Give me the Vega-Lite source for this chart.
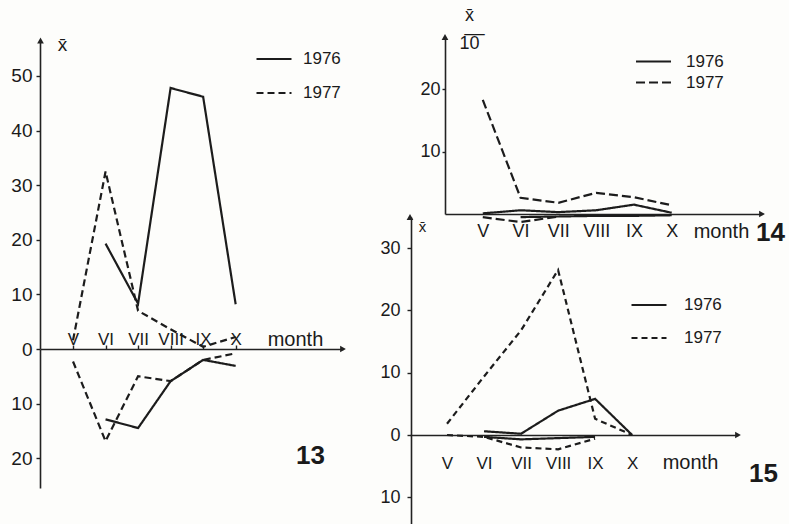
{
  "$schema": "https://vega.github.io/schema/vega-lite/v6.json",
  "width": 789,
  "height": 524,
  "autosize": {"type": "none"},
  "padding": 0,
  "background": "#fdfdfb",
  "datasets": {
    "lines": [
      {"panel": "13", "part": "upper", "year": "1976", "month": "VI", "m": 6, "v": 19.3},
      {"panel": "13", "part": "upper", "year": "1976", "month": "VII", "m": 7, "v": 8.3},
      {"panel": "13", "part": "upper", "year": "1976", "month": "VIII", "m": 8, "v": 47.8},
      {"panel": "13", "part": "upper", "year": "1976", "month": "IX", "m": 9, "v": 46.2},
      {"panel": "13", "part": "upper", "year": "1976", "month": "X", "m": 10, "v": 8.2},
      {"panel": "13", "part": "upper", "year": "1977", "month": "V", "m": 5, "v": 1.6},
      {"panel": "13", "part": "upper", "year": "1977", "month": "VI", "m": 6, "v": 32.5},
      {"panel": "13", "part": "upper", "year": "1977", "month": "VII", "m": 7, "v": 7.0},
      {"panel": "13", "part": "upper", "year": "1977", "month": "VIII", "m": 8, "v": 3.6},
      {"panel": "13", "part": "upper", "year": "1977", "month": "IX", "m": 9, "v": 0.4},
      {"panel": "13", "part": "upper", "year": "1977", "month": "X", "m": 10, "v": 2.2},
      {"panel": "13", "part": "lower", "year": "1976", "month": "VI", "m": 6, "v": 12.9},
      {"panel": "13", "part": "lower", "year": "1976", "month": "VII", "m": 7, "v": 14.5},
      {"panel": "13", "part": "lower", "year": "1976", "month": "VIII", "m": 8, "v": 5.9},
      {"panel": "13", "part": "lower", "year": "1976", "month": "IX", "m": 9, "v": 2.0},
      {"panel": "13", "part": "lower", "year": "1976", "month": "X", "m": 10, "v": 3.1},
      {"panel": "13", "part": "lower", "year": "1977", "month": "V", "m": 5, "v": 2.3},
      {"panel": "13", "part": "lower", "year": "1977", "month": "VI", "m": 6, "v": 16.9},
      {"panel": "13", "part": "lower", "year": "1977", "month": "VII", "m": 7, "v": 5.0},
      {"panel": "13", "part": "lower", "year": "1977", "month": "VIII", "m": 8, "v": 5.9},
      {"panel": "13", "part": "lower", "year": "1977", "month": "IX", "m": 9, "v": 2.0},
      {"panel": "13", "part": "lower", "year": "1977", "month": "X", "m": 10, "v": 0.8},
      {"panel": "14", "part": "upper", "year": "1976", "month": "V", "m": 5, "v": 0.1},
      {"panel": "14", "part": "upper", "year": "1976", "month": "VI", "m": 6, "v": 0.6},
      {"panel": "14", "part": "upper", "year": "1976", "month": "VII", "m": 7, "v": 0.3},
      {"panel": "14", "part": "upper", "year": "1976", "month": "VIII", "m": 8, "v": 0.6},
      {"panel": "14", "part": "upper", "year": "1976", "month": "IX", "m": 9, "v": 1.5},
      {"panel": "14", "part": "upper", "year": "1976", "month": "X", "m": 10, "v": 0.2},
      {"panel": "14", "part": "upper", "year": "1977", "month": "V", "m": 5, "v": 18.3},
      {"panel": "14", "part": "upper", "year": "1977", "month": "VI", "m": 6, "v": 2.6},
      {"panel": "14", "part": "upper", "year": "1977", "month": "VII", "m": 7, "v": 1.8},
      {"panel": "14", "part": "upper", "year": "1977", "month": "VIII", "m": 8, "v": 3.4},
      {"panel": "14", "part": "upper", "year": "1977", "month": "IX", "m": 9, "v": 2.7},
      {"panel": "14", "part": "upper", "year": "1977", "month": "X", "m": 10, "v": 1.4},
      {"panel": "14", "part": "lower", "year": "1976", "month": "VI", "m": 6, "v": 0.5},
      {"panel": "14", "part": "lower", "year": "1976", "month": "VII", "m": 7, "v": 0.4},
      {"panel": "14", "part": "lower", "year": "1976", "month": "VIII", "m": 8, "v": 0.3},
      {"panel": "14", "part": "lower", "year": "1976", "month": "IX", "m": 9, "v": 0.3},
      {"panel": "14", "part": "lower", "year": "1976", "month": "X", "m": 10, "v": 0.2},
      {"panel": "14", "part": "lower", "year": "1977", "month": "V", "m": 5, "v": 0.5},
      {"panel": "14", "part": "lower", "year": "1977", "month": "VI", "m": 6, "v": 1.3},
      {"panel": "14", "part": "lower", "year": "1977", "month": "VII", "m": 7, "v": 0.4},
      {"panel": "15", "part": "upper", "year": "1976", "month": "VI", "m": 6, "v": 0.6},
      {"panel": "15", "part": "upper", "year": "1976", "month": "VII", "m": 7, "v": 0.2},
      {"panel": "15", "part": "upper", "year": "1976", "month": "VIII", "m": 8, "v": 3.9},
      {"panel": "15", "part": "upper", "year": "1976", "month": "IX", "m": 9, "v": 5.8},
      {"panel": "15", "part": "upper", "year": "1976", "month": "X", "m": 10, "v": 0},
      {"panel": "15", "part": "upper", "year": "1977", "month": "V", "m": 5, "v": 1.8},
      {"panel": "15", "part": "upper", "year": "1977", "month": "VI", "m": 6, "v": 9.4},
      {"panel": "15", "part": "upper", "year": "1977", "month": "VII", "m": 7, "v": 16.8},
      {"panel": "15", "part": "upper", "year": "1977", "month": "VIII", "m": 8, "v": 26.5},
      {"panel": "15", "part": "upper", "year": "1977", "month": "IX", "m": 9, "v": 2.6},
      {"panel": "15", "part": "upper", "year": "1977", "month": "X", "m": 10, "v": 0},
      {"panel": "15", "part": "lower", "year": "1976", "month": "VI", "m": 6, "v": 0.3},
      {"panel": "15", "part": "lower", "year": "1976", "month": "VII", "m": 7, "v": 0.7},
      {"panel": "15", "part": "lower", "year": "1976", "month": "VIII", "m": 8, "v": 0.5},
      {"panel": "15", "part": "lower", "year": "1976", "month": "IX", "m": 9, "v": 0.3},
      {"panel": "15", "part": "lower", "year": "1977", "month": "V", "m": 5, "v": 0},
      {"panel": "15", "part": "lower", "year": "1977", "month": "VI", "m": 6, "v": 0.3},
      {"panel": "15", "part": "lower", "year": "1977", "month": "VII", "m": 7, "v": 2.0},
      {"panel": "15", "part": "lower", "year": "1977", "month": "VIII", "m": 8, "v": 2.3},
      {"panel": "15", "part": "lower", "year": "1977", "month": "IX", "m": 9, "v": 0.6}
    ],
    "arrows": [
      {"panel": "13", "dir": "up", "m": 4, "v": 56.5},
      {"panel": "13", "dir": "right", "m": 13.3, "v": 0},
      {"panel": "14", "dir": "up", "m": 4, "v": 28.4},
      {"panel": "14", "dir": "right", "m": 12.39, "v": 0},
      {"panel": "15", "dir": "up", "m": 4, "v": 35},
      {"panel": "15", "dir": "right", "m": 12.86, "v": 0}
    ]
  },
  "layer": [
    {
      "data": {"name": "lines"},
      "transform": [{"filter": "datum.panel == '13' && datum.part == 'upper'"}],
      "mark": {"type": "line", "color": "#1c1c1c", "strokeWidth": 2.2},
      "encoding": {
        "x": {"field": "m", "type": "quantitative",
          "scale": {"domain": [4, 13.3], "range": [40.5, 343], "nice": false, "zero": false},
          "axis": {"orient": "top", "offset": -349, "values": [5, 6, 7, 8, 9, 10],
            "labelExpr": "['','','','','','V','VI','VII','VIII','IX','X'][datum.value]",
            "tickSize": 4, "labelPadding": -3, "labelFontSize": 17,
            "title": "month", "titleX": 295, "titleY": -10, "titleFontSize": 20}},
        "y": {"field": "v", "type": "quantitative",
          "scale": {"domain": [0, 56.5], "range": [349, 40.5], "nice": false, "zero": false},
          "axis": {"orient": "left", "offset": -40, "values": [0, 10, 20, 30, 40, 50],
            "tickSize": 4, "labelPadding": 4, "labelFontSize": 19,
            "title": "x̄", "titleX": 22, "titleY": 44, "titleFontSize": 19}},
        "strokeDash": {"field": "year", "type": "nominal",
          "scale": {"domain": ["1976", "1977"], "range": [[1, 0], [7, 4]]},
          "legend": {"orient": "none", "legendX": 255, "legendY": 40, "title": null,
            "symbolType": "stroke", "symbolSize": 1225, "symbolStrokeWidth": 2.2,
            "symbolStrokeColor": "#1c1c1c", "labelFontSize": 17, "labelOffset": 10, "rowPadding": 7, "padding": 0}}
      }
    },
    {
      "data": {"name": "lines"},
      "transform": [{"filter": "datum.panel == '13' && datum.part == 'lower'"}],
      "mark": {"type": "line", "color": "#1c1c1c", "strokeWidth": 2.2},
      "encoding": {
        "x": {"field": "m", "type": "quantitative",
          "scale": {"domain": [4, 13.3], "range": [40.5, 343], "nice": false, "zero": false}, "axis": null},
        "y": {"field": "v", "type": "quantitative",
          "scale": {"domain": [0, 25.5], "range": [349, 488], "nice": false, "zero": false},
          "axis": {"orient": "left", "offset": -40, "values": [10, 20],
            "tickSize": 4, "labelPadding": 4, "labelFontSize": 19,
            "title": "13", "titleX": 270, "titleY": 455, "titleFontSize": 26, "titleFontWeight": "bold"}},
        "strokeDash": {"field": "year", "type": "nominal",
          "scale": {"domain": ["1976", "1977"], "range": [[1, 0], [7, 4]]}, "legend": null}
      }
    },
    {
      "data": {"name": "arrows"},
      "transform": [{"filter": "datum.panel == '13'"}],
      "mark": {"type": "point", "filled": true, "color": "#222", "size": 45, "opacity": 1},
      "encoding": {
        "x": {"field": "m", "type": "quantitative",
          "scale": {"domain": [4, 13.3], "range": [40.5, 343], "nice": false, "zero": false}, "axis": null},
        "y": {"field": "v", "type": "quantitative",
          "scale": {"domain": [0, 56.5], "range": [349, 40.5], "nice": false, "zero": false}, "axis": null},
        "shape": {"field": "dir", "type": "nominal",
          "scale": {"domain": ["up", "right"], "range": ["triangle-up", "triangle-right"]}, "legend": null}
      }
    },
    {
      "data": {"name": "lines"},
      "transform": [{"filter": "datum.panel == '14' && datum.part == 'upper'"}],
      "mark": {"type": "line", "color": "#1c1c1c", "strokeWidth": 2.2},
      "encoding": {
        "x": {"field": "m", "type": "quantitative",
          "scale": {"domain": [4, 12.39], "range": [445, 762], "nice": false, "zero": false},
          "axis": {"orient": "bottom", "offset": -310, "values": [5, 6, 7, 8, 9, 10],
            "labelExpr": "['','','','','','V','VI','VII','VIII','IX','X'][datum.value]",
            "ticks": false, "tickSize": 0, "labelPadding": 8, "labelFontSize": 18,
            "title": "month", "titleX": 721, "titleY": 17, "titleFontSize": 20}},
        "y": {"field": "v", "type": "quantitative",
          "scale": {"domain": [0, 28.4], "range": [214, 37], "nice": false, "zero": false},
          "axis": {"orient": "left", "offset": -445, "values": [10, 20],
            "tickSize": 3, "labelPadding": 2, "labelFontSize": 18,
            "title": ["x̄", "1̅0̅"], "titleX": 24, "titleY": 20, "titleBaseline": "alphabetic", "titleLineHeight": 28, "titleFontSize": 18}},
        "strokeDash": {"field": "year", "type": "nominal",
          "scale": {"domain": ["1976", "1977"], "range": [[1, 0], [9, 4]]},
          "legend": {"orient": "none", "legendX": 641, "legendY": 49, "title": null,
            "symbolType": "M-1.59,0H1.59", "symbolSize": 484, "symbolStrokeWidth": 2.2,
            "symbolStrokeColor": "#1c1c1c", "labelFontSize": 17, "labelOffset": 20, "rowPadding": 0, "padding": 0}}
      }
    },
    {
      "data": {"name": "lines"},
      "transform": [{"filter": "datum.panel == '14' && datum.part == 'lower'"}],
      "mark": {"type": "line", "color": "#1c1c1c", "strokeWidth": 2.2},
      "encoding": {
        "x": {"field": "m", "type": "quantitative",
          "scale": {"domain": [4, 12.39], "range": [445, 762], "nice": false, "zero": false}, "axis": null},
        "y": {"field": "v", "type": "quantitative",
          "scale": {"domain": [0, 4], "range": [214, 238.9], "nice": false, "zero": false},
          "axis": {"orient": "left", "offset": -445, "domain": false, "ticks": false, "labels": false,
            "title": "14", "titleX": 325, "titleY": 232, "titleFontSize": 26, "titleFontWeight": "bold"}},
        "strokeDash": {"field": "year", "type": "nominal",
          "scale": {"domain": ["1976", "1977"], "range": [[1, 0], [9, 4]]}, "legend": null}
      }
    },
    {
      "data": {"name": "arrows"},
      "transform": [{"filter": "datum.panel == '14'"}],
      "mark": {"type": "point", "filled": true, "color": "#222", "size": 45, "opacity": 1},
      "encoding": {
        "x": {"field": "m", "type": "quantitative",
          "scale": {"domain": [4, 12.39], "range": [445, 762], "nice": false, "zero": false}, "axis": null},
        "y": {"field": "v", "type": "quantitative",
          "scale": {"domain": [0, 28.4], "range": [214, 37], "nice": false, "zero": false}, "axis": null},
        "shape": {"field": "dir", "type": "nominal",
          "scale": {"domain": ["up", "right"], "range": ["triangle-up", "triangle-right"]}, "legend": null}
      }
    },
    {
      "data": {"name": "lines"},
      "transform": [{"filter": "datum.panel == '15' && datum.part == 'upper'"}],
      "mark": {"type": "line", "color": "#1c1c1c", "strokeWidth": 2.2},
      "encoding": {
        "x": {"field": "m", "type": "quantitative",
          "scale": {"domain": [4, 12.86], "range": [410, 738], "nice": false, "zero": false},
          "axis": {"orient": "bottom", "offset": -89, "values": [5, 6, 7, 8, 9, 10],
            "labelExpr": "['','','','','','V','VI','VII','VIII','IX','X'][datum.value]",
            "ticks": false, "tickSize": 0, "labelPadding": 20, "labelFontSize": 17,
            "title": "month", "titleX": 690, "titleY": 27, "titleFontSize": 20}},
        "y": {"field": "v", "type": "quantitative",
          "scale": {"domain": [0, 35], "range": [435, 217], "nice": false, "zero": false},
          "axis": {"orient": "left", "offset": -411, "values": [0, 10, 20, 30],
            "tickSize": 4, "labelPadding": 7, "labelFontSize": 18,
            "title": "x̄", "titleX": 11, "titleY": 226, "titleFontSize": 15}},
        "strokeDash": {"field": "year", "type": "nominal",
          "scale": {"domain": ["1976", "1977"], "range": [[1, 0], [6, 4]]},
          "legend": {"orient": "none", "legendX": 630, "legendY": 286, "title": null,
            "symbolType": "stroke", "symbolSize": 1225, "symbolStrokeWidth": 2.2,
            "symbolStrokeColor": "#1c1c1c", "labelFontSize": 17, "labelOffset": 16, "rowPadding": 6, "padding": 0}}
      }
    },
    {
      "data": {"name": "lines"},
      "transform": [{"filter": "datum.panel == '15' && datum.part == 'lower'"}],
      "mark": {"type": "line", "color": "#1c1c1c", "strokeWidth": 2.2},
      "encoding": {
        "x": {"field": "m", "type": "quantitative",
          "scale": {"domain": [4, 12.86], "range": [410, 738], "nice": false, "zero": false}, "axis": null},
        "y": {"field": "v", "type": "quantitative",
          "scale": {"domain": [0, 14.4], "range": [435, 524.7], "nice": false, "zero": false},
          "axis": {"orient": "left", "offset": -411, "values": [10],
            "tickSize": 4, "labelPadding": 7, "labelFontSize": 18,
            "title": "15", "titleX": 352, "titleY": 473, "titleFontSize": 26, "titleFontWeight": "bold"}},
        "strokeDash": {"field": "year", "type": "nominal",
          "scale": {"domain": ["1976", "1977"], "range": [[1, 0], [6, 4]]}, "legend": null}
      }
    },
    {
      "data": {"name": "arrows"},
      "transform": [{"filter": "datum.panel == '15'"}],
      "mark": {"type": "point", "filled": true, "color": "#222", "size": 45, "opacity": 1},
      "encoding": {
        "x": {"field": "m", "type": "quantitative",
          "scale": {"domain": [4, 12.86], "range": [410, 738], "nice": false, "zero": false}, "axis": null},
        "y": {"field": "v", "type": "quantitative",
          "scale": {"domain": [0, 35], "range": [435, 217], "nice": false, "zero": false}, "axis": null},
        "shape": {"field": "dir", "type": "nominal",
          "scale": {"domain": ["up", "right"], "range": ["triangle-up", "triangle-right"]}, "legend": null}
      }
    }
  ],
  "resolve": {
    "scale": {"x": "independent", "y": "independent", "strokeDash": "independent", "shape": "independent"},
    "axis": {"x": "independent", "y": "independent"},
    "legend": {"strokeDash": "independent", "shape": "independent"}
  },
  "config": {
    "view": {"stroke": null},
    "font": "Liberation Sans",
    "axis": {
      "grid": false, "labelFont": "Liberation Sans", "titleFont": "Liberation Sans",
      "labelColor": "#1a1a1a", "titleColor": "#1a1a1a", "domainColor": "#222", "tickColor": "#222",
      "domainWidth": 1.6, "tickWidth": 1.4, "labelOverlap": false, "labelFlush": false, "labelBound": false,
      "titleAngle": 0, "titleAlign": "center", "titleBaseline": "middle", "titleFontWeight": "normal", "titlePadding": 0
    },
    "legend": {"labelFont": "Liberation Sans", "labelColor": "#1a1a1a"}
  }
}
